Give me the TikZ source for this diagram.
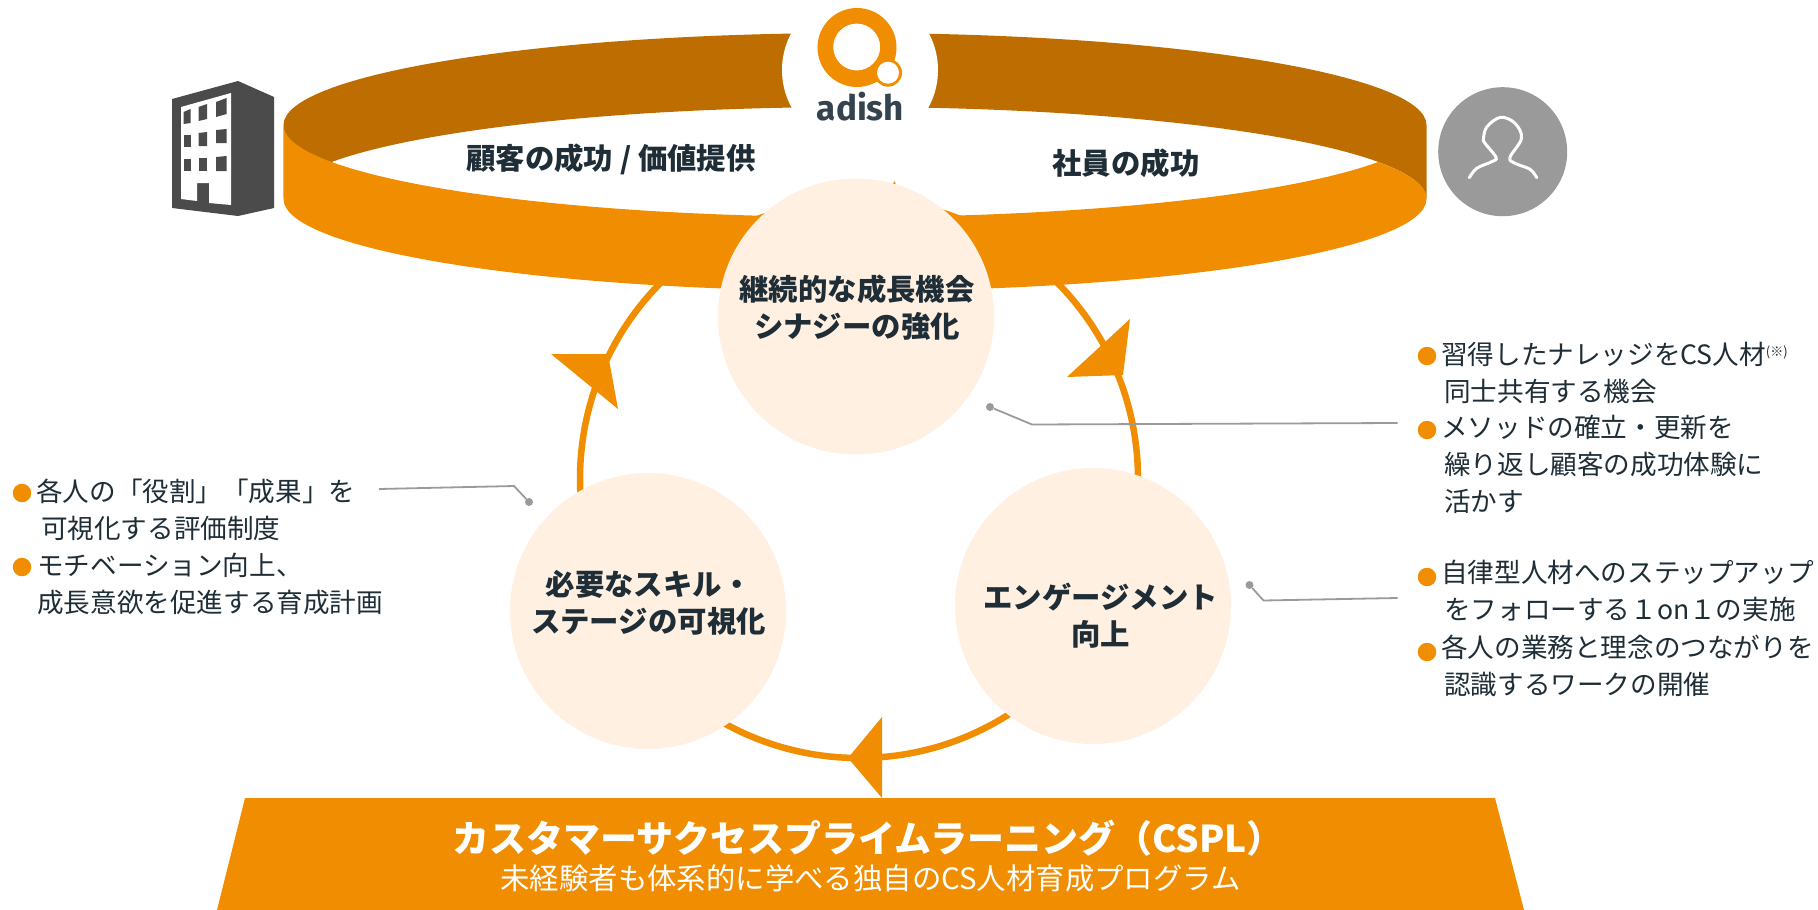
\documentclass[tikz,border=0pt]{standalone}
\usepackage{fontspec}
\setmainfont{Noto Sans CJK JP}
\newfontfamily\logofont{Fira Sans}
\usetikzlibrary{positioning}
\definecolor{ringorange}{HTML}{F18D00}
\definecolor{ringdark}{HTML}{BE6E00}
\definecolor{cream}{HTML}{FFF0E2}
\definecolor{inkdark}{HTML}{1F2D36}
\definecolor{logoink}{HTML}{34434E}
\definecolor{leadgray}{HTML}{9A9A9A}
\definecolor{towergray}{HTML}{4B4B4B}
\tikzset{
  stage/.style={circle,fill=cream,minimum size=276pt,inner sep=0pt},
  stagetext/.style={align=center,text=inkdark,inner sep=0pt,font=\fontsize{29.4}{36.5}\selectfont\bfseries},
  bandtext/.style={text=inkdark,inner sep=0pt,font=\fontsize{29.4}{32}\selectfont\bfseries},
  note/.style={anchor=west,align=left,text=inkdark,inner sep=0pt,font=\fontsize{26.6}{37}\selectfont},
  bullet/.style={circle,fill=ringorange,minimum size=18.5pt,inner sep=0pt},
  leaddot/.style={circle,fill=leadgray,minimum size=8pt,inner sep=0pt},
  lead/.style={draw=leadgray,line width=1.8pt},
}
\begin{document}
\begin{tikzpicture}[x=1pt,y=1pt,yscale=-1]
  \useasboundingbox(0,0)rectangle(1818,910);
  \def\rx{571.5}
  \def\ry{92}
  % band
  \fill[ringdark](283.5,125)arc[start angle=180,end angle=360,x radius=\rx,y radius=\ry]
    --(1426.5,199)arc[start angle=0,end angle=-180,x radius=\rx,y radius=\ry]--cycle;
  \fill[ringorange](283.5,125)arc[start angle=180,end angle=23.7,x radius=\rx,y radius=\ry]
    arc[start angle=-23.7,end angle=0,x radius=\rx,y radius=\ry]
    arc[start angle=0,end angle=180,x radius=\rx,y radius=\ry]--cycle;
  % logo
  \fill[white](860,70)circle[radius=78];
  \fill[ringorange,even odd rule](857,47.5)circle[radius=39.5](856.7,47)circle[radius=23.5];
  \fill[ringorange](888,72.7)circle[radius=14];
  \fill[white](888,72.7)circle[radius=11];
  \node[inner sep=0pt,text=logoink,font=\logofont\fontsize{35}{35}\selectfont\bfseries](adish)at(860.5,107){adish};
  % tower
  \fill[towergray](172,99)--(238,81)--(274,97)--(274,208)--(238,216)--(172,208)--cycle;
  \fill[white](181,107)--(231,93)--(231,205)--(209,203)--(209,183)--(197,183)--(197,201)--(181,199)--cycle;
  \foreach \xa/\xb/\ya/\yb/\yc/\yd in {
    183.5/190.5/112/124/109/123,198.5/207/107/121/104/119,216/226.5/102/117/98/114,
    183.5/190.5/135/147/135/147,198.5/207/133/146/132/146,216/226.5/130/143/129/143,
    183.5/190.5/159/171/159/171,198.5/207/158/171/158/171,216/226.5/157/171/156/171}
    \fill[towergray](\xa,\ya)--(\xb,\yc)--(\xb,\yd)--(\xa,\yb)--cycle;
  % person
  \fill[leadgray](1502.7,151.7)circle[radius=64.5];
  \draw[white,line width=3pt,line cap=round]plot[smooth,tension=.6]coordinates{
    (1469.3,177.7)(1476.7,168.3)(1491.7,161.7)(1496,157.3)(1485,143.3)(1483.5,138.3)
    (1487,126.7)(1500.7,117.3)(1515,123.3)(1521.5,138.3)(1510,157.3)(1515,163.3)(1530,169.3)(1536.7,177.7)};
  \node[bandtext](client)at(611,159){顧客の成功 / 価値提供};
  \node[bandtext](staff)at(1126,163){社員の成功};
  % cycle
  \draw[ringorange,line width=6.5pt](859,479)circle[radius=279];
  \fill[ringorange](551,354)--(608,354)--(618,409)--cycle;
  \fill[ringorange](1130,319)--(1067,377)--(1123,375)--cycle;
  \fill[ringorange](882,717)--(882,798)--(848,758)--cycle;
  \fill[ringorange](894.4,181)--(886,197)--(902,197)--cycle;
  \node[stage](grow)at(856,316.5){};
  \node[stage](skill)at(648,611){};
  \node[stage](engage)at(1093,606){};
  \node[stagetext](growtext)at(857,307.5){継続的な成長機会\\シナジーの強化};
  \node[stagetext](skilltext)at(648.5,603){必要なスキル・\\ステージの可視化};
  \node[stagetext](engagetext)at(1100.5,615.5){エンゲージメント\\向上};
  % program
  \fill[ringorange](245,798)--(1495,798)--(1524,910)--(217,910)--cycle;
  \node[text=white,inner sep=0pt,font=\fontsize{37}{40}\selectfont\bfseries](cspl)at(868,838){カスタマーサクセスプライムラーニング（CSPL）};
  \node[text=white,inner sep=0pt,font=\fontsize{29.4}{32}\selectfont](csplsub)at(870.5,878){未経験者も体系的に学べる独自のCS人材育成プログラム};
  % notes
  \node[bullet](ba)at(22,493){};
  \node[bullet](bb)at(22,567){};
  \node[bullet](bc)at(1427,356){};
  \node[bullet](bd)at(1427,430){};
  \node[bullet](be)at(1427,577){};
  \node[bullet](bf)at(1427,652){};
  \node[note](na)at(36,510){各人の「役割」「成果」を\\\hspace{5pt}可視化する評価制度};
  \node[note](nb)at(37,584){モチベーション向上、\\成長意欲を促進する育成計画};
  \node[note](nc)at(1441,372.5){習得したナレッジをCS人材{\fontsize{13}{13}\selectfont\raisebox{8pt}{(※)}}\\\hspace{3pt}同士共有する機会};
  \node[note](nd)at(1441,464){メソッドの確立・更新を\\\hspace{3pt}繰り返し顧客の成功体験に\\\hspace{3pt}活かす};
  \node[note](ne)at(1441,590.5){自律型人材へのステップアップ\\\hspace{3pt}をフォローする１on１の実施};
  \node[note](nf)at(1441,665.5){各人の業務と理念のつながりを\\\hspace{3pt}認識するワークの開催};
  % leaders
  \node[leaddot](da)at(529,502){};
  \node[leaddot](db)at(990,407){};
  \node[leaddot](dc)at(1249.5,585){};
  \coordinate(ea)at(514,486);
  \coordinate(eb)at(1032,424.5);
  \coordinate(ec)at(1263.5,600.5);
  \coordinate(fa)at(379,489);
  \coordinate(fb)at(1397.5,423);
  \coordinate(fc)at(1397.5,598);
  \draw[lead](da)--(ea)--(fa);
  \draw[lead](db)--(eb)--(fb);
  \draw[lead](dc)--(ec)--(fc);
\end{tikzpicture}
\end{document}
